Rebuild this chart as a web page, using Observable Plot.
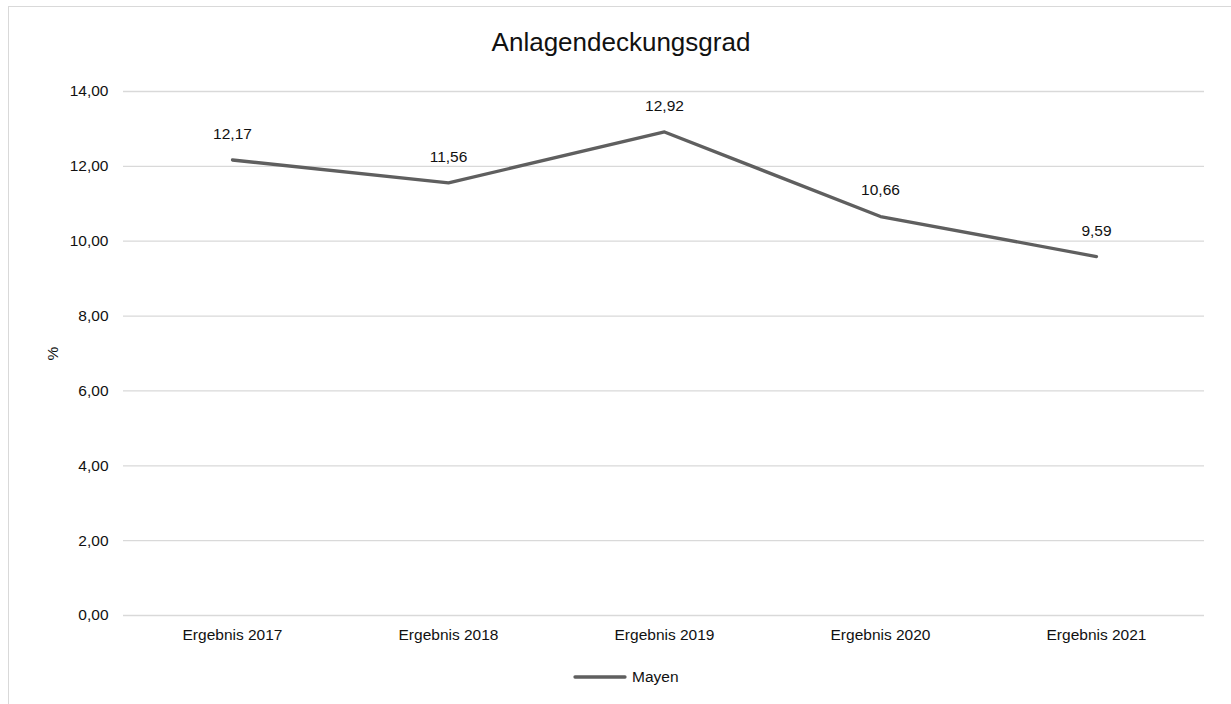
<!DOCTYPE html>
<html>
<head>
<meta charset="utf-8">
<script src="https://cdn.jsdelivr.net/npm/d3@7"></script>
<script src="https://cdn.jsdelivr.net/npm/@observablehq/plot@0.6"></script>
<style>
  html, body { margin: 0; padding: 0; background: #fff; }
  body { position: relative; width: 1231px; height: 704px; overflow: hidden;
         font-family: "Liberation Sans", Arial, Helvetica, sans-serif; color: #111; }
  #frame { position: absolute; left: 8px; top: 6px; width: 1300px; height: 800px;
           border: 1.5px solid #d9d9d9; box-sizing: border-box; }
  #chart { position: absolute; left: 0; top: 0; width: 1231px; }
  #title { height: 66px; box-sizing: border-box; padding-top: 27px; padding-left: 11px;
           line-height: 30px; font-size: 26px; text-align: center; color: #111; }
  #legend { height: 22px; display: flex; align-items: center; padding-left: 573px;
            font-size: 15.5px; color: #111; }
  #legend svg { display: block; margin-right: 5px; }
</style>
</head>
<body>
<div id="frame"></div>
<div id="chart">
  <div id="title">Anlagendeckungsgrad</div>
  <div id="plot"></div>
  <div id="legend"></div>
</div>
<script>
const categories = ["Ergebnis 2017", "Ergebnis 2018", "Ergebnis 2019", "Ergebnis 2020", "Ergebnis 2021"];
const values = [12.17, 11.56, 12.92, 10.66, 9.59];
const seriesName = "Mayen";
const yTicks = [0, 2, 4, 6, 8, 10, 12, 14];
const yLabel = "%";
const lineColor = "#5f5f5f";

const data = categories.map((c, i) => ({category: c, value: values[i]}));
const fmt = v => v.toFixed(2).replace(".", ",");

const chart = Plot.plot({
  width: 1231,
  height: 600,
  marginTop: 25,
  marginBottom: 51,
  marginLeft: 123,
  marginRight: 27,
  style: {fontFamily: '"Liberation Sans", Arial, Helvetica, sans-serif', fontSize: "15.5px", color: "#111", background: "transparent"},
  x: {type: "point", domain: categories, padding: 0.5},
  y: {domain: [0, 14]},
  marks: [
    Plot.ruleY(yTicks, {stroke: "#d9d9d9", strokeWidth: 1.3, strokeOpacity: 1}),
    Plot.axisY({ticks: yTicks, tickSize: 0, tickPadding: 15, tickFormat: fmt, fontSize: 15.5,
                label: yLabel, labelAnchor: "center", labelArrow: "none", labelOffset: 77}),
    Plot.axisX({tickSize: 0, tickPadding: 13, fontSize: 15.5, label: null}),
    Plot.lineY(data, {x: "category", y: "value", stroke: lineColor, strokeWidth: 3.3, strokeLinejoin: "round", strokeLinecap: "round"}),
    Plot.text(data, {x: "category", y: "value", text: d => fmt(d.value), dy: -26, fontSize: 15.5, fill: "#111"})
  ]
});
document.getElementById("plot").appendChild(chart);

const legend = document.getElementById("legend");
legend.innerHTML = `<svg width="54" height="8"><line x1="2" y1="4" x2="52" y2="4" stroke="${lineColor}" stroke-width="3.3" stroke-linecap="round"/></svg><span>${seriesName}</span>`;
</script>
</body>
</html>
